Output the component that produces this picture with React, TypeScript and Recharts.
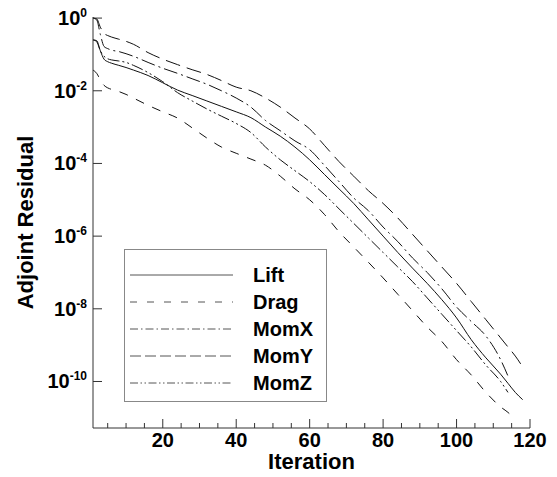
import React from "react";
import { LineChart, Line, XAxis, YAxis, Legend } from "recharts";

// Iteration numbers at which the residuals were read
const iterations = [1, 2, 3, 4, 5, 6, 8, 10, 12, 16, 20, 24, 28, 32, 36, 40, 44, 48, 52, 56, 60, 64, 68, 72, 76, 80, 84, 88, 92, 96, 100, 104, 108, 112, 114, 116, 118];

// log10 of the adjoint residual for each series
const liftExp = [-0.6, -0.62, -0.9, -1.13, -1.2, -1.24, -1.3, -1.36, -1.43, -1.58, -1.78, -1.98, -2.13, -2.28, -2.43, -2.58, -2.74, -3.0, -3.25, -3.55, -3.9, -4.3, -4.7, -5.1, -5.55, -6.0, -6.45, -6.88, -7.3, -7.75, -8.25, -8.85, -9.35, -9.8, -10.05, -10.3, -10.5];
const dragExp = [-1.43, -1.52, -1.7, -1.85, -1.92, -1.96, -2.02, -2.1, -2.2, -2.4, -2.58, -2.75, -3.02, -3.3, -3.55, -3.72, -3.88, -4.05, -4.35, -4.7, -5.0, -5.4, -5.88, -6.3, -6.72, -7.15, -7.6, -8.05, -8.5, -8.9, -9.4, -9.82, -10.3, -10.7, -10.85, -11.05, null];
const momXExp = [0.0, -0.05, -0.45, -0.78, -0.84, -0.88, -0.92, -0.98, -1.05, -1.22, -1.38, -1.52, -1.67, -1.82, -2.0, -2.2, -2.45, -2.82, -3.1, -3.38, -3.62, -4.05, -4.5, -4.95, -5.3, -5.75, -6.15, -6.6, -7.0, -7.45, -7.95, -8.35, -8.75, -9.4, -9.85, null, null];
const momYExp = [0.0, -0.02, -0.25, -0.42, -0.48, -0.52, -0.58, -0.64, -0.72, -0.95, -1.13, -1.28, -1.42, -1.55, -1.72, -1.9, -2.0, -2.2, -2.45, -2.75, -3.05, -3.5, -3.95, -4.35, -4.75, -5.1, -5.5, -5.95, -6.4, -6.85, -7.3, -7.8, -8.3, -8.8, -9.05, -9.3, -9.6];
const momZExp = [-0.6, -0.65, -0.9, -1.05, -1.12, -1.15, -1.18, -1.22, -1.3, -1.5, -1.75, -2.05, -2.28, -2.5, -2.7, -2.9, -3.15, -3.55, -3.9, -4.2, -4.5, -4.85, -5.25, -5.65, -6.05, -6.45, -6.85, -7.25, -7.7, -8.15, -8.6, -9.05, -9.55, -10.0, -10.3, null, null];

const seriesNames = ["Lift", "Drag", "MomX", "MomY", "MomZ"];
const xTicks = [5, 10, 15, 20, 25, 30, 35, 40, 45, 50, 55, 60, 65, 70, 75, 80, 85, 90, 95, 100, 105, 110, 115, 120];
const yTickExps = [0, -2, -4, -6, -8, -10];

const FONT = "'Liberation Sans', Arial, Helvetica, sans-serif";

const seriesDefs = [
  { exps: liftExp, dash: undefined as string | undefined, legendDash: undefined as string | undefined },
  { exps: dragExp, dash: "9 9", legendDash: "7 10" },
  { exps: momXExp, dash: "14 4 2 4", legendDash: "8 3 1.5 3" },
  { exps: momYExp, dash: "15 7", legendDash: "11 4" },
  { exps: momZExp, dash: "12 3 2 3 2 3", legendDash: "8 2.5 1.5 2.5 1.5 2.5" },
].map((s, i) => ({ ...s, key: seriesNames[i] }));

const data = iterations.map((it, i) => {
  const row: Record<string, number | null> = { iter: it };
  seriesDefs.forEach((s) => {
    const e = s.exps[i];
    row[s.key] = e == null ? null : Math.pow(10, e);
  });
  return row;
});

const yTicks = yTickExps.map((e) => Math.pow(10, e));

const YTick = (props: any) => {
  const { x, y, payload } = props;
  const exp = Math.round(Math.log10(payload.value));
  return (
    <g>
      <line x1={x} y1={y} x2={x + 9} y2={y} stroke="#333" strokeWidth={1} />
      <text x={x - 6} y={y + 7} textAnchor="end" fontFamily={FONT} fontWeight="bold" fontSize={20} fill="#000">
        10
        <tspan dy={-8} fontSize={12}>
          {exp}
        </tspan>
      </text>
    </g>
  );
};

const XTick = (props: any) => {
  const { x, y, payload } = props;
  const major = payload.value % 20 === 0;
  return (
    <g>
      <line x1={x} y1={y} x2={x} y2={y - (major ? 9 : 5)} stroke="#333" strokeWidth={1} />
      {major && (
        <text x={x} y={y + 19} textAnchor="middle" fontFamily={FONT} fontWeight="bold" fontSize={20} fill="#000">
          {payload.value}
        </text>
      )}
    </g>
  );
};

const XLabel = (props: any) => {
  const vb = props.viewBox || { x: 93, y: 428, width: 437, height: 49 };
  return (
    <text x={vb.x + vb.width / 2} y={vb.y + 41} textAnchor="middle" fontFamily={FONT} fontWeight="bold" fontSize={22} fill="#000">
      Iteration
    </text>
  );
};

const YLabel = (props: any) => {
  const vb = props.viewBox || { x: 0, y: 17, width: 93, height: 411 };
  const cx = vb.x + 33;
  const cy = vb.y + vb.height / 2;
  return (
    <text x={cx} y={cy} transform={`rotate(-90, ${cx}, ${cy})`} textAnchor="middle" fontFamily={FONT} fontWeight="bold" fontSize={22} fill="#000">
      Adjoint Residual
    </text>
  );
};

const LegendBox = () => (
  <svg width={203} height={153} style={{ display: "block" }}>
    <rect x={0.5} y={0.5} width={202} height={152} fill="#fff" stroke="#888" strokeWidth={1} />
    {seriesDefs.map((s, i) => {
      const y = 26 + i * 27;
      return (
        <g key={s.key}>
          <line x1={6} y1={y} x2={109} y2={y} stroke="#555" strokeWidth={1} strokeDasharray={s.legendDash} />
          <text x={129} y={y + 7} fontFamily={FONT} fontWeight="bold" fontSize={20} fill="#000">
            {s.key}
          </text>
        </g>
      );
    })}
  </svg>
);

export default function App() {
  return (
    <div style={{ margin: -8, width: 557, height: 477, overflow: "hidden" }}>
      <LineChart width={557} height={477} data={data} margin={{ top: 17, right: 27, bottom: 0, left: 0 }}>
        <XAxis
          dataKey="iter"
          type="number"
          domain={[1, 120]}
          allowDataOverflow
          ticks={xTicks}
          interval={0}
          height={49}
          tickSize={0}
          tickMargin={0}
          tickLine={false}
          axisLine={{ stroke: "#333", strokeWidth: 1 }}
          tick={<XTick />}
          label={<XLabel />}
        />
        <YAxis
          type="number"
          scale="log"
          domain={[Math.pow(10, -11.28), Math.pow(10, 0.03)]}
          allowDataOverflow
          ticks={yTicks}
          interval={0}
          width={93}
          tickSize={0}
          tickMargin={0}
          tickLine={false}
          axisLine={{ stroke: "#333", strokeWidth: 1 }}
          tick={<YTick />}
          label={<YLabel />}
        />
        <Legend
          layout="vertical"
          align="center"
          verticalAlign="middle"
          wrapperStyle={{ left: 124, top: 249, width: 203, height: 153 }}
          content={<LegendBox />}
        />
        {seriesDefs.map((s) => (
          <Line
            key={s.key}
            dataKey={s.key}
            type="monotone"
            stroke="#111"
            strokeWidth={1}
            strokeDasharray={s.dash}
            dot={false}
            activeDot={false}
            isAnimationActive={false}
            connectNulls={false}
          />
        ))}
      </LineChart>
    </div>
  );
}
